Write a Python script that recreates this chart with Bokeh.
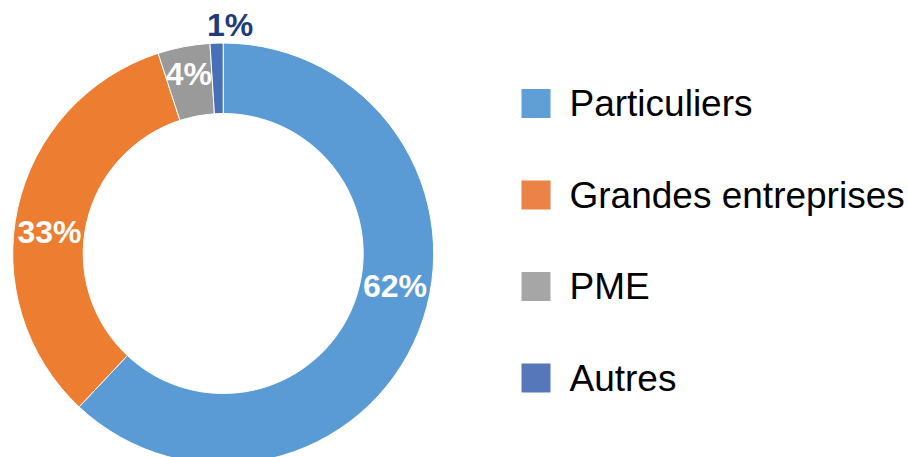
import numpy as np
from bokeh.plotting import figure
from bokeh.models import Range1d, ColumnDataSource
from bokeh.core.properties import value
from bokeh.embed import file_html
from bokeh.resources import INLINE

# ---- data ----
categories = ["Particuliers", "Grandes entreprises", "PME", "Autres"]
shares = [62, 33, 4, 1]
labels = ["62%", "33%", "4%", "1%"]

# ---- styles ----
colors = ["#5B9BD5", "#ED7D31", "#9A9A9A", "#4870B8"]
legend_colors = ["#5F9FD5", "#EC8245", "#A6A6A6", "#5677B9"]
label_colors = ["white", "white", "white", "#1F3C78"]
label_radius = [175, 175, 183, 228]
label_dx = [9, -3, 0, 14]
label_dy = [32, -17, 0, 1]

W, H = 908, 457
p = figure(width=W, height=H, x_range=Range1d(0, W), y_range=Range1d(0, H),
           output_backend="svg", toolbar_location=None, min_border=0)
p.axis.visible = False
p.grid.visible = False
p.outline_line_color = None
p.background_fill_color = "white"
p.border_fill_color = "white"

# page coords -> data: x = px, y = H - py
cx, cy = 222.7, H - 253.0
r_in, r_out = 140, 210.5

vals = np.array(shares, dtype=float)
frac = vals / vals.sum()
cum = np.concatenate([[0], np.cumsum(frac)])
start = np.pi / 2 - cum[:-1] * 2 * np.pi
end = np.pi / 2 - cum[1:] * 2 * np.pi
mid = (start + end) / 2

src = ColumnDataSource(dict(cat=categories, start=start, end=end, color=colors))
p.annular_wedge(x=cx, y=cy, inner_radius=r_in, outer_radius=r_out,
                start_angle="start", end_angle="end", direction="clock",
                fill_color="color", line_color="white", line_width=1, source=src)

lx = [cx + r * np.cos(a) + dx for r, a, dx in zip(label_radius, mid, label_dx)]
ly = [cy + r * np.sin(a) + dy for r, a, dy in zip(label_radius, mid, label_dy)]
lsrc = ColumnDataSource(dict(x=lx, y=ly, t=labels, c=label_colors))
p.text(x="x", y="y", text="t", text_color="c", source=lsrc,
       text_font=value("Liberation Sans"), text_font_style="bold",
       text_font_size="32px", text_align="center", text_baseline="middle")

# ---- legend ----
n = len(categories)
leg_y = [H - 103 - i * 91.5 for i in range(n)]
leg_x = [535.5] * n
legsrc = ColumnDataSource(dict(x=leg_x, y=leg_y, tx=[569] * n, t=categories, c=legend_colors))
p.rect(x="x", y="y", width=29, height=29, fill_color="c", line_color=None, source=legsrc)
p.text(x="tx", y="y", text="t", source=legsrc, text_color="black",
       text_font=value("Liberation Sans"), text_font_size="37px",
       text_align="left", text_baseline="middle")

open("out.html", "w").write(file_html(p, INLINE))
